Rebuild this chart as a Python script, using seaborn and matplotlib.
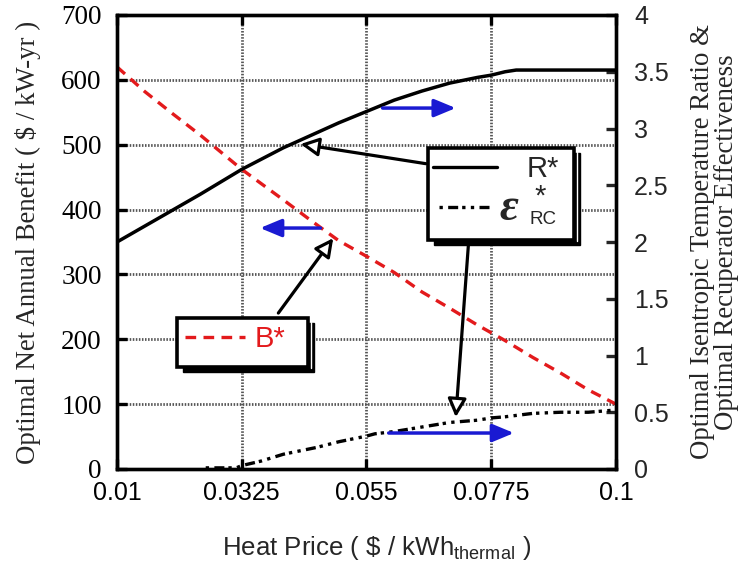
import matplotlib
matplotlib.use("Agg")
import matplotlib.pyplot as plt
import matplotlib.patches as mpatches
import seaborn as sns
import pandas as pd

# ---------------- data ----------------
price_b = [0.01, 0.015, 0.02, 0.025, 0.0325, 0.04, 0.045, 0.05, 0.055, 0.06,
           0.065, 0.07, 0.075, 0.08, 0.085, 0.09, 0.095, 0.1]
benefit_b = [620, 582, 548, 515, 462, 415, 383, 352, 328, 303,
             273, 248, 222, 198, 172, 148, 122, 100]

price_r = [0.01, 0.015, 0.02, 0.025, 0.0325, 0.04, 0.045, 0.05, 0.055, 0.06,
           0.065, 0.07, 0.075, 0.0775, 0.08, 0.082, 0.09, 0.1]
ratio_r = [2.00, 2.14, 2.28, 2.42, 2.64, 2.83, 2.94, 3.05, 3.15, 3.25,
           3.33, 3.40, 3.45, 3.47, 3.50, 3.515, 3.515, 3.515]

price_e = [0.026, 0.0315, 0.0325, 0.036, 0.04, 0.046, 0.05, 0.055, 0.0565, 0.06,
           0.065, 0.07, 0.0725, 0.075, 0.0775, 0.08, 0.085, 0.09, 0.095, 0.1]
eff_e = [0.01, 0.01, 0.03, 0.07, 0.13, 0.19, 0.24, 0.29, 0.31, 0.33,
         0.37, 0.41, 0.42, 0.43, 0.45, 0.46, 0.49, 0.50, 0.50, 0.52]

x_ticks = [0.01, 0.0325, 0.055, 0.0775, 0.1]
x_ticklabels = ["0.01", "0.0325", "0.055", "0.0775", "0.1"]
left_ticks = [0, 100, 200, 300, 400, 500, 600, 700]
right_ticks = [0, 0.5, 1, 1.5, 2, 2.5, 3, 3.5, 4]
right_ticklabels = ["0", "0.5", "1", "1.5", "2", "2.5", "3", "3.5", "4"]

df_b = pd.DataFrame({"price": price_b, "B": benefit_b})
df_r = pd.DataFrame({"price": price_r, "R": ratio_r})
df_e = pd.DataFrame({"price": price_e, "E": eff_e})

# ---------------- style ----------------
sns.set_style("ticks")
plt.rcParams["font.family"] = ["Liberation Sans", "DejaVu Sans"]
plt.rcParams["mathtext.fontset"] = "custom"
plt.rcParams["mathtext.rm"] = "Liberation Sans"
plt.rcParams["mathtext.it"] = "Liberation Sans:italic"

RED = "#e31a1c"
BLUE = "#1a1ad2"
SERIF = ["Liberation Serif", "DejaVu Serif"]
EPS_LS = (0, (1.0, 1.6, 3.0, 1.2, 1.0, 1.6))
B_LS = (0, (3.2, 2.2))

fig = plt.figure(figsize=(7.41, 5.79), dpi=100)
ax = fig.add_axes([117 / 741, 1 - 469 / 579, 499 / 741, 454 / 579])
ax2 = ax.twinx()

sns.lineplot(data=df_b, x="price", y="B", ax=ax, color=RED, lw=2.4)
ax.lines[-1].set_linestyle(B_LS)
sns.lineplot(data=df_r, x="price", y="R", ax=ax2, color="black", lw=2.5)
sns.lineplot(data=df_e, x="price", y="E", ax=ax2, color="black", lw=2.4)
ax2.lines[-1].set_linestyle(EPS_LS)

ax.set_xlim(0.01, 0.1)
ax.set_ylim(0, 700)
ax2.set_ylim(0, 4)
ax.set_xticks(x_ticks)
ax.set_xticklabels(x_ticklabels)
ax.set_yticks(left_ticks)
ax.set_yticklabels([str(v) for v in left_ticks], fontfamily=SERIF)
ax2.set_yticks(right_ticks)
ax2.set_yticklabels(right_ticklabels)

ax.grid(True, color="#555555", lw=2.0, linestyle=(0, (0.55, 0.55)))
ax2.grid(False)

for a in (ax, ax2):
    for s in a.spines.values():
        s.set_linewidth(2.4)
        s.set_color("black")
ax.tick_params(axis="x", direction="in", length=7, width=2.4, top=True,
               labelsize=18, pad=9, colors="black")
ax.tick_params(axis="y", direction="in", length=7, width=2.4,
               labelsize=19.5, pad=11, colors="black")
ax2.tick_params(axis="y", direction="in", length=7, width=2.4, labelsize=18, pad=13)

ax.set_xlabel(r"Heat Price ( \$ / kWh$_{\mathregular{thermal}}$ )", fontsize=18.6)
ax.xaxis.set_label_coords(0.52, -0.143)
ax.set_ylabel("Optimal Net Annual Benefit ( $ / kW-yr )", fontsize=19.3, fontfamily=SERIF)
ax.yaxis.set_label_coords(-0.152, 0.5)
ax2.set_ylabel("Optimal Isentropic Temperature Ratio &\nOptimal Recuperator Effectiveness",
               fontsize=19.3, fontfamily=SERIF, linespacing=0.98)
ax2.yaxis.set_label_coords(1.148, 0.5)

# ---------------- annotation boxes ----------------
def shadow_box(a, x0, y0, x1, y1):
    dx, dy = 6 / 499, 5 / 454
    a.add_patch(mpatches.Rectangle((x0 + dx, y0 - dy), x1 - x0, y1 - y0, transform=a.transAxes,
                                   facecolor="black", edgecolor="black", lw=1, zorder=20, clip_on=False))
    a.add_patch(mpatches.Rectangle((x0, y0), x1 - x0, y1 - y0, transform=a.transAxes,
                                   facecolor="white", edgecolor="black", lw=2.6, zorder=21, clip_on=False))
    a.plot([x1 + 2.6 / 499, x1 + 2.6 / 499], [y0 - 1 / 454, y1 - 4 / 454], transform=a.transAxes,
           color="white", lw=1.0, zorder=22, clip_on=False)

# R* / eps box
shadow_box(ax2, 0.6225, 0.5044, 0.9157, 0.7070)
ax2.plot([0.6325, 0.761], [0.665, 0.665], transform=ax2.transAxes, color="black", lw=2.4, zorder=23)
ax2.text(0.821, 0.660, "R*", transform=ax2.transAxes, fontsize=21, va="center", ha="left", zorder=23)
ax2.plot([0.6446, 0.753], [0.577, 0.577], transform=ax2.transAxes, color="black", lw=2.4,
         linestyle=EPS_LS, zorder=23)
ax2.text(0.766, 0.572, "ε", transform=ax2.transAxes, fontsize=33, fontfamily=SERIF,
         fontweight="bold", fontstyle="italic", va="center", ha="left", zorder=23)
ax2.text(0.836, 0.600, "*", transform=ax2.transAxes, fontsize=21, va="center", ha="left", zorder=23)
ax2.text(0.826, 0.549, "RC", transform=ax2.transAxes, fontsize=13.5, va="center", ha="left", zorder=23)

# B* box
shadow_box(ax2, 0.1205, 0.2247, 0.3835, 0.3326)
ax2.plot([0.1365, 0.257], [0.2907, 0.2907], transform=ax2.transAxes, color=RED, lw=2.4,
         linestyle=B_LS, zorder=23)
ax2.text(0.275, 0.2870, "B*", transform=ax2.transAxes, fontsize=21, color=RED,
         va="center", ha="left", zorder=23)

# ---------------- arrows ----------------
blk = dict(arrowstyle="-|>,head_length=0.55,head_width=0.28", lw=2.3, edgecolor="black",
           facecolor="white", mutation_scale=20, shrinkA=0, shrinkB=0)
ax2.annotate("", xy=(0.0431, 2.863), xytext=(0.0657, 2.69), arrowprops=blk, zorder=19)
ax2.annotate("", xy=(0.049, 2.034), xytext=(0.0391, 1.374), arrowprops=blk, zorder=19)
ax2.annotate("", xy=(0.0711, 0.457), xytext=(0.0734, 1.989), arrowprops=blk, zorder=19)

blu = dict(arrowstyle="-|>,head_length=0.65,head_width=0.27", lw=2.5, color=BLUE,
           mutation_scale=20, shrinkA=0, shrinkB=0)
ax2.annotate("", xy=(0.0711, 3.18), xytext=(0.0579, 3.18), arrowprops=blu, zorder=18)
ax2.annotate("", xy=(0.0358, 2.123), xytext=(0.0467, 2.123), arrowprops=blu, zorder=18)
ax2.annotate("", xy=(0.0816, 0.317), xytext=(0.059, 0.317), arrowprops=blu, zorder=18)

fig.savefig("out.png", dpi=100)
